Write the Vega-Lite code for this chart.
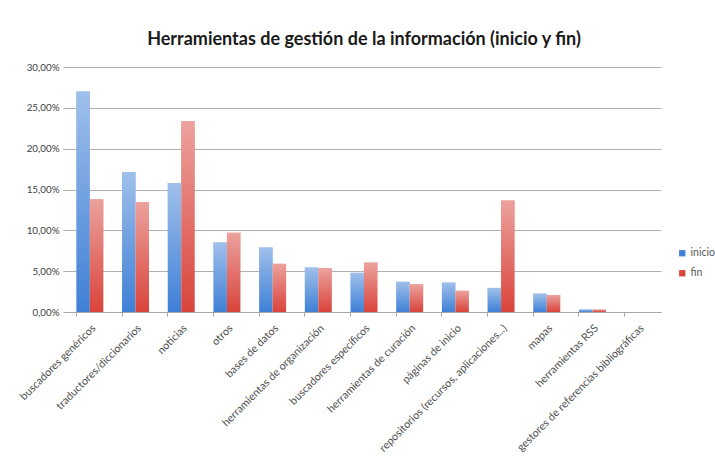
{
  "$schema": "https://vega.github.io/schema/vega-lite/v6.json",
  "width": 594,
  "height": 245,
  "autosize": "none",
  "padding": {"left": 67, "top": 67, "right": 54, "bottom": 158},
  "background": "white",
  "title": {
    "text": "Herramientas de gestión de la información (inicio y fin)",
    "font": "Lato",
    "fontSize": 18,
    "fontWeight": "bold",
    "color": "#1a1a1a",
    "anchor": "middle",
    "offset": 13
  },
  "config": {
    "view": {"stroke": null},
    "font": "Lato"
  },
  "data": {
    "values": [
      {"cat": "buscadores genéricos", "serie": "inicio", "valor": 27.0},
      {"cat": "buscadores genéricos", "serie": "fin", "valor": 13.8},
      {"cat": "traductores/diccionarios", "serie": "inicio", "valor": 17.1},
      {"cat": "traductores/diccionarios", "serie": "fin", "valor": 13.45},
      {"cat": "noticias", "serie": "inicio", "valor": 15.8},
      {"cat": "noticias", "serie": "fin", "valor": 23.35},
      {"cat": "otros", "serie": "inicio", "valor": 8.5},
      {"cat": "otros", "serie": "fin", "valor": 9.7},
      {"cat": "bases de datos", "serie": "inicio", "valor": 7.9},
      {"cat": "bases de datos", "serie": "fin", "valor": 5.9},
      {"cat": "herramientas de organización", "serie": "inicio", "valor": 5.45},
      {"cat": "herramientas de organización", "serie": "fin", "valor": 5.37},
      {"cat": "buscadores específicos", "serie": "inicio", "valor": 4.8},
      {"cat": "buscadores específicos", "serie": "fin", "valor": 6.05},
      {"cat": "herramientas de curación", "serie": "inicio", "valor": 3.7},
      {"cat": "herramientas de curación", "serie": "fin", "valor": 3.4},
      {"cat": "páginas de inicio", "serie": "inicio", "valor": 3.6},
      {"cat": "páginas de inicio", "serie": "fin", "valor": 2.6},
      {"cat": "repositorios (recursos, aplicaciones...)", "serie": "inicio", "valor": 2.95},
      {"cat": "repositorios (recursos, aplicaciones...)", "serie": "fin", "valor": 13.65},
      {"cat": "mapas", "serie": "inicio", "valor": 2.25},
      {"cat": "mapas", "serie": "fin", "valor": 2.07},
      {"cat": "herramientas RSS", "serie": "inicio", "valor": 0.3},
      {"cat": "herramientas RSS", "serie": "fin", "valor": 0.3},
      {"cat": "gestores de referencias bibliográficas", "serie": "inicio", "valor": 0},
      {"cat": "gestores de referencias bibliográficas", "serie": "fin", "valor": 0}
    ]
  },
  "encoding": {
    "x": {
      "field": "cat",
      "type": "nominal",
      "sort": null,
      "title": null,
      "scale": {"paddingInner": 0.41, "paddingOuter": 0.205},
      "axis": {
        "labelAngle": -45,
        "labelFont": "Lato",
        "labelFontSize": 10.8,
        "labelColor": "#505050",
        "labelLimit": 300,
        "labelPadding": 6,
        "bandPosition": 0,
        "domainColor": "#a6a6a6",
        "tickColor": "#a6a6a6",
        "tickSize": 4,
        "grid": false
      }
    },
    "xOffset": {"field": "serie", "sort": ["inicio", "fin"]},
    "y": {
      "field": "valor",
      "type": "quantitative",
      "title": null,
      "scale": {"domain": [0, 30], "nice": false},
      "axis": {
        "values": [0, 5, 10, 15, 20, 25, 30],
        "labelExpr": "replace(format(datum.value, '.2f'), '.', ',') + '%'",
        "labelFont": "Lato",
        "labelFontSize": 9.8,
        "labelColor": "#404040",
        "labelPadding": 4,
        "domain": false,
        "tickColor": "#a6a6a6",
        "tickSize": 4,
        "gridColor": "#b0b0b0",
        "gridWidth": 1.2
      }
    }
  },
  "layer": [
    {
      "mark": {"type": "bar"},
      "encoding": {
        "color": {
          "field": "serie",
          "type": "nominal",
          "scale": {"domain": ["inicio", "fin"], "range": ["#3f80d6", "#d9443b"]},
          "legend": {
            "title": null,
            "orient": "none",
            "legendX": 610,
            "legendY": 181,
            "symbolType": "square",
            "symbolSize": 40,
            "labelFont": "Lato",
            "labelFontSize": 10.5,
            "labelColor": "#595959",
            "rowPadding": 9,
            "labelOffset": 3
          }
        }
      }
    },
    {
      "mark": {
        "type": "bar",
        "fill": {
          "gradient": "linear",
          "x1": 0, "y1": 0, "x2": 0, "y2": 1,
          "stops": [
            {"offset": 0, "color": "rgba(255,255,255,0.5)"},
            {"offset": 1, "color": "rgba(255,255,255,0)"}
          ]
        }
      },
      "encoding": {}
    }
  ]
}
